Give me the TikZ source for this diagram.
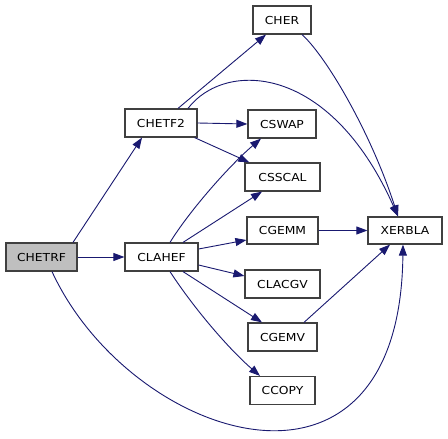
\documentclass[tikz,border=0pt]{standalone}
\usepackage{fontspec}
\setmainfont{DejaVu Sans}[FakeStretch=1.12]
\usetikzlibrary{arrows.meta}
\definecolor{edgecol}{HTML}{191970}
\definecolor{boxcol}{HTML}{404040}
\tikzset{
  fn/.style={draw=boxcol, line width=1.2pt, fill=white, minimum height=28pt, inner sep=0pt,
    font=\fontsize{11pt}{13pt}\selectfont, text=black},
  edge/.style={draw=edgecol, line width=0.9pt, -{Triangle[length=11pt,width=8pt]}},
}
\begin{document}
\begin{tikzpicture}[x=1pt,y=-1pt]
\useasboundingbox (0,0) rectangle (448,439);
\fill[white] (0,0) rectangle (448,439);
\node[fn, minimum width=58pt] (CHER) at (282,20) {CHER};
\node[fn, minimum width=72pt] (CHETF2) at (161,123) {CHETF2};
\node[fn, minimum width=68pt] (CSWAP) at (282,124) {CSWAP};
\node[fn, minimum width=75pt] (CSSCAL) at (282.5,177) {CSSCAL};
\node[fn, minimum width=71pt, minimum height=27pt] (CGEMM) at (282.5,230.5) {CGEMM};
\node[fn, minimum width=74pt, minimum height=27pt] (XERBLA) at (405,230.5) {XERBLA};
\node[fn, minimum width=71pt, fill=black!25] (CHETRF) at (41.5,257) {CHETRF};
\node[fn, minimum width=73pt] (CLAHEF) at (161.5,257) {CLAHEF};
\node[fn, minimum width=75pt] (CLACGV) at (282.5,284) {CLACGV};
\node[fn, minimum width=69pt] (CGEMV) at (282.5,337) {CGEMV};
\node[fn, minimum width=65pt] (CCOPY) at (282.5,390.5) {CCOPY};

\draw[edge] ([xshift=31.5pt]CHETRF.north) -- ([xshift=-19pt]CHETF2.south);
\draw[edge] (CHETRF.east) -- (CLAHEF.west);
\draw[edge] ([xshift=10.5pt]CHETRF.south) .. controls (130,440) and (400,530) .. ([xshift=-2pt]XERBLA.south);
\draw[edge] ([xshift=17pt]CHETF2.north) -- ([xshift=-16pt]CHER.south);
\draw[edge] ([xshift=27pt]CHETF2.north) .. controls (225,60) and (330,63) .. ([xshift=-7pt]XERBLA.north);
\draw[edge] (CHETF2.east) -- (CSWAP.west);
\draw[edge] ([xshift=-3pt]CHETF2.south east) -- ([xshift=5pt]CSSCAL.north west);
\draw[edge] ([xshift=20pt]CHER.south) .. controls (325,55) and (370,130) .. ([xshift=-7pt]XERBLA.north);
\draw[edge] ([xshift=8.5pt]CLAHEF.north) .. controls (190,210) and (230,165) .. ([xshift=-21pt]CSWAP.south);
\draw[edge] ([xshift=21.5pt]CLAHEF.north) -- ([xshift=-20.5pt]CSSCAL.south);
\draw[edge] ([yshift=8pt]CLAHEF.east) -- ([yshift=-9.5pt]CGEMM.west);
\draw[edge] ([yshift=-8pt]CLAHEF.east) -- ([yshift=8pt]CLACGV.west);
\draw[edge] ([xshift=21.5pt]CLAHEF.south) -- ([xshift=-20.5pt]CGEMV.north);
\draw[edge] ([xshift=8.5pt]CLAHEF.south) .. controls (195,310) and (230,350) .. ([xshift=-22.5pt]CCOPY.north);
\draw[edge] (CGEMM.east) -- (XERBLA.west);
\draw[edge] ([xshift=21.5pt]CGEMV.north) -- ([xshift=-15pt]XERBLA.south);
\end{tikzpicture}
\end{document}
